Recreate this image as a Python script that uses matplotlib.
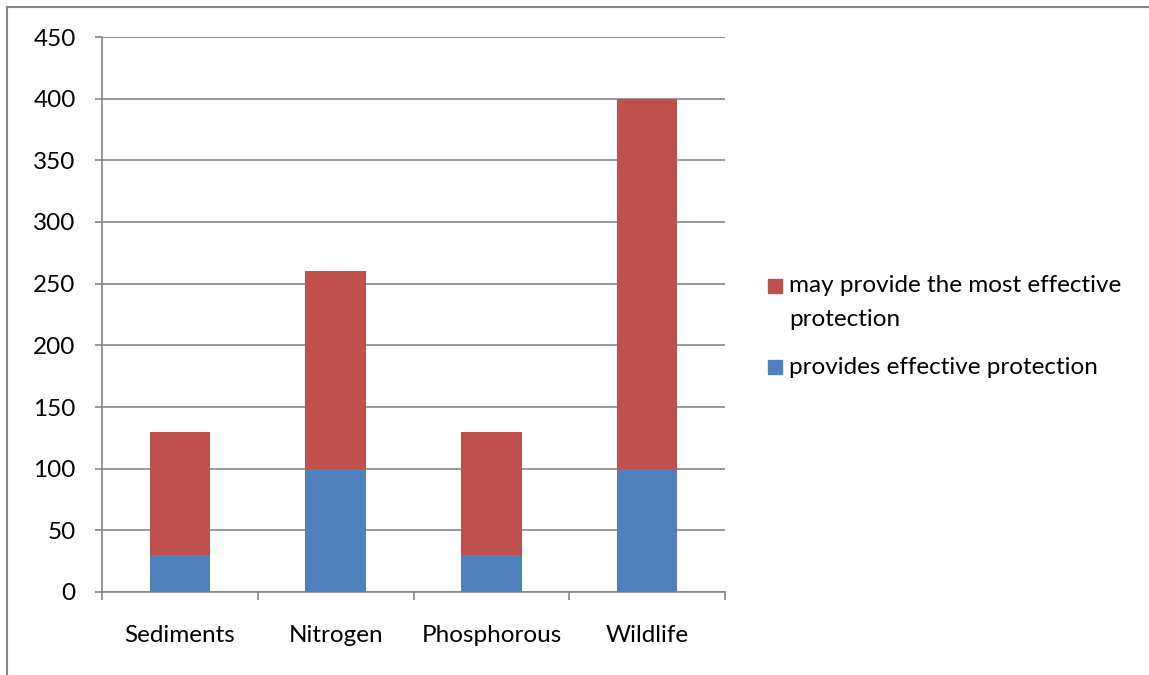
import matplotlib.pyplot as plt
from matplotlib.patches import Rectangle
from matplotlib.lines import Line2D
import numpy as np

categories = ['Sediments', 'Nitrogen', 'Phosphorous', 'Wildlife']
effective = [30, 100, 30, 100]
most_effective = [100, 160, 100, 300]

blue = '#4F81BD'
red = '#C0504D'
grey = '#868686'

plt.rcParams['font.family'] = ['Lato', 'DejaVu Sans']
fs = 17.5

W, H = 1149, 675
fig = plt.figure(figsize=(W/100, H/100), dpi=100)
ax = fig.add_axes([102/W, 1-592/H, (725-102)/W, (592-37)/H])

x = np.arange(len(categories))
ax.bar(x, effective, width=0.39, color=blue, zorder=3)
ax.bar(x, most_effective, width=0.39, bottom=effective, color=red, zorder=3)

ax.set_xlim(-0.5, len(categories)-0.5)
ax.set_ylim(0, 450)
ax.set_yticks(range(0, 451, 50))
ax.yaxis.grid(True, color=grey, linewidth=1.2, zorder=0)
for s in ['top', 'right']:
    ax.spines[s].set_visible(False)
for s in ['left', 'bottom']:
    ax.spines[s].set_color(grey)
    ax.spines[s].set_linewidth(1.2)

# category ticks between groups
ax.set_xticks(np.arange(-0.5, len(categories), 1.0))
ax.set_xticklabels([])
ax.set_xticks(x, minor=True)
ax.set_xticklabels(categories, minor=True, fontsize=fs)
ax.tick_params(axis='x', which='major', length=6, color=grey, width=1.2)
ax.tick_params(axis='x', which='minor', length=0, pad=24)
ax.tick_params(axis='y', length=5, color=grey, width=1.2, labelsize=fs, pad=14)

# legend drawn by hand to match the line spacing
legend_items = [(red, ['may provide the most effective', 'protection'], 286),
                (blue, ['provides effective protection'], 367)]
for col, lines, yc in legend_items:
    fig.add_artist(Rectangle((768/W, 1-(yc+7)/H), 14/W, 14/H, color=col,
                             transform=fig.transFigure))
    for i, line in enumerate(lines):
        fig.text(789/W, 1-(yc+34*i)/H, line, fontsize=fs, va='center', ha='left')

# outer chart border (top and left only visible)
fig.add_artist(Line2D([7/W, 1], [1-7/H, 1-7/H], color=grey, linewidth=1.5))
fig.add_artist(Line2D([7/W, 7/W], [0, 1-7/H], color=grey, linewidth=1.5))

fig.savefig('out.png', dpi=100)
